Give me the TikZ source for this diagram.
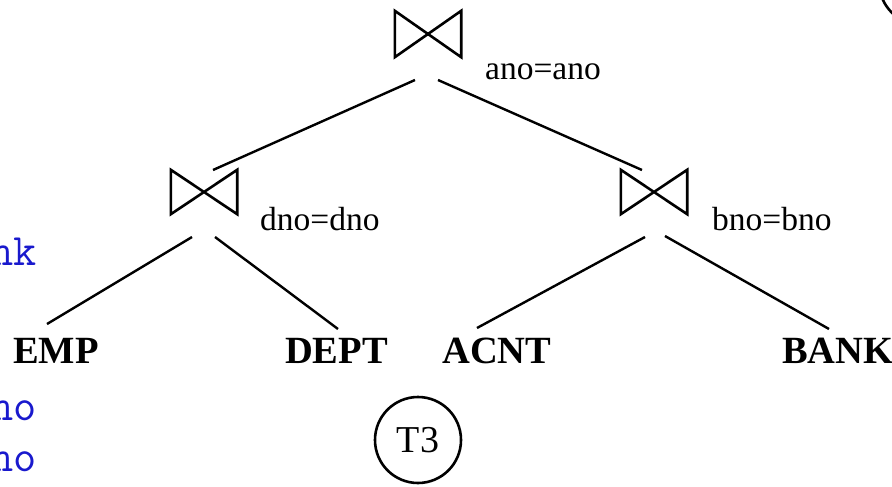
\documentclass[tikz,border=0pt]{standalone}
\usepackage{fontspec}
\setmainfont{Liberation Serif}
\definecolor{codeblue}{RGB}{25,25,205}
\begin{document}
\begin{tikzpicture}[x=1pt,y=-1pt,
  joinbox/.style={minimum width=66pt,minimum height=44pt,inner sep=0pt,draw=none},
  bowtie/.style={line width=2.6pt,line join=miter},
  edge/.style={line width=2.4pt},
  cond/.style={inner sep=0pt,anchor=base west,font=\fontsize{33.5}{36}\selectfont},
  rel/.style={inner sep=0pt,anchor=base west,font=\fontsize{38.5}{42}\selectfont\bfseries},
  code/.style={inner sep=0pt,anchor=base east,text=codeblue,font=\ttfamily\fontsize{45}{48}\selectfont},
  tag/.style={circle,draw,line width=2.6pt,minimum size=86pt,inner sep=0pt,font=\fontsize{38}{40}\selectfont}]
\useasboundingbox (0,0) rectangle (892,487);

% code lines running in from the left
\node[code] (c1) at (37,265) {nk};
\node[code] (c2) at (37,420) {no};
\node[code] (c3) at (37,471) {no};

% join operators
\node[joinbox,minimum height=46pt] (top) at (428,34) {};
\node[joinbox] (L) at (204,192) {};
\node[joinbox] (R) at (654,192) {};
\foreach \j in {top,L,R}
  \draw[bowtie] (\j.north west) -- (\j.south west) -- (\j.north east) -- (\j.south east) -- cycle;

% join conditions
\node[cond] (ctop) at (485,80) {ano=ano};
\node[cond] (cL) at (260,230) {dno=dno};
\node[cond] (cR) at (712,230) {bno=bno};

% base relations
\node[rel] (emp) at (13,363) {EMP};
\node[rel] (dept) at (285,363) {DEPT};
\node[rel] (acnt) at (442,363) {ACNT};
\node[rel] (bank) at (782,363) {BANK};

% tree edges
\draw[edge] ([shift={(-13,46)}]top.center) -- ([shift={(9,-22)}]L.center);
\draw[edge] ([shift={(10,46)}]top.center) -- ([shift={(-12,-22)}]R.center);
\draw[edge] ([shift={(-12,45)}]L.center) -- ([shift={(34,-39)}]emp.base west);
\draw[edge] ([shift={(11,45)}]L.center) -- ([shift={(53,-34)}]dept.base west);
\draw[edge] ([shift={(-9,45)}]R.center) -- ([shift={(35,-35)}]acnt.base west);
\draw[edge] ([shift={(11,44)}]R.center) -- ([shift={(47,-34)}]bank.base west);

% site tag
\node[tag] (t3) at (418,440) {T3};

% neighbouring tag at the top right edge
\node[tag] (tnext) at (922,-18) {};
\end{tikzpicture}
\end{document}
